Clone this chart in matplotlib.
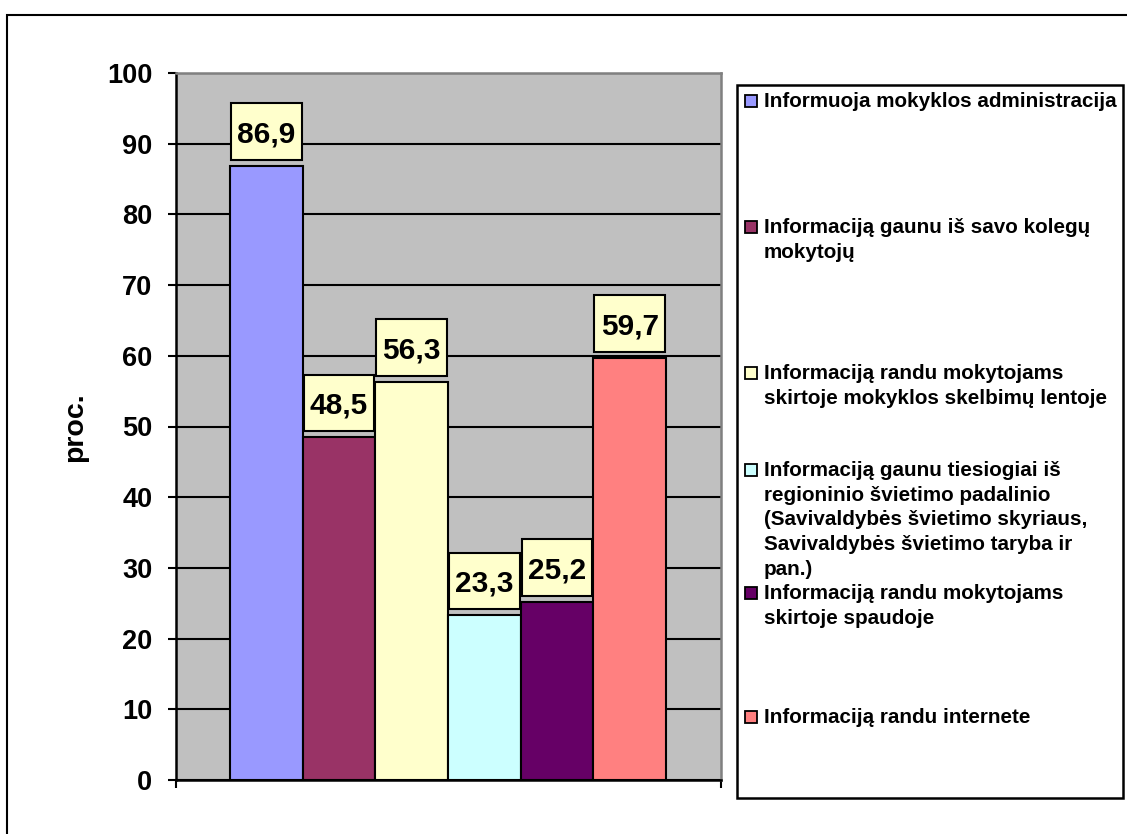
import matplotlib
matplotlib.use("Agg")
import matplotlib.pyplot as plt
import matplotlib.patches as mpatches
import numpy as np

# Survey answers: where teachers get their information (percent)
labels = [
    "Informuoja mokyklos administracija",
    "Informaciją gaunu iš savo kolegų\nmokytojų",
    "Informaciją randu mokytojams\nskirtoje mokyklos skelbimų lentoje",
    "Informaciją gaunu tiesiogiai iš\nregioninio švietimo padalinio\n(Savivaldybės švietimo skyriaus,\nSavivaldybės švietimo taryba ir\npan.)",
    "Informaciją randu mokytojams\nskirtoje spaudoje",
    "Informaciją randu internete",
]
values = [86.9, 48.5, 56.3, 23.3, 25.2, 59.7]
colors = ["#9999FF", "#993366", "#FFFFCC", "#CCFFFF", "#660066", "#FF8080"]
yticks = [0, 10, 20, 30, 40, 50, 60, 70, 80, 90, 100]

# first-line centre of each legend entry, in pixels from the top
legend_rows = [101, 227, 373, 470, 593, 717]

W, H = 1127, 834
plt.rcParams['font.family'] = ['Liberation Sans', 'DejaVu Sans']
plt.rcParams['font.weight'] = 'bold'

fig = plt.figure(figsize=(W / 100, H / 100), dpi=100, facecolor='white')
ax = fig.add_axes([176 / W, 1 - 780 / H, 545 / W, 707 / H])
ax.set_facecolor('#C0C0C0')

x = np.arange(len(values))
ax.bar(x, values, width=1.0, color=colors, edgecolor='black', linewidth=1.5, zorder=3)

# value boxes above each bar: same width as the bar, small gap above its top
box_gap, box_h, box_w = 0.85, 8.0, 0.97
for xi, v in zip(x, values):
    ax.add_patch(mpatches.Rectangle((xi - box_w / 2, v + box_gap), box_w, box_h,
                                    facecolor='#FFFFCC', edgecolor='black',
                                    linewidth=1.5, zorder=4))
    ax.text(xi, v + box_gap + box_h / 2, f"{v:.1f}".replace('.', ','),
            ha='center', va='center_baseline', fontsize=21.5, fontweight='bold', zorder=5)

lo, hi = -0.5 - 0.743, len(values) - 0.5 + 0.757
ax.set_xlim(lo, hi)
ax.set_ylim(0, 100)
ax.set_yticks(yticks)
ax.set_yticklabels([str(t) for t in yticks], fontsize=19.5, fontweight='bold')
ax.set_xticks([lo, hi])
ax.set_xticklabels([])
ax.tick_params(axis='both', direction='out', length=6, width=1.5, color='black')
ax.tick_params(axis='y', pad=11)

ax.yaxis.grid(True, color='black', linewidth=1.5)
ax.set_axisbelow(True)

for side in ('left', 'bottom'):
    ax.spines[side].set_color('black')
    ax.spines[side].set_linewidth(1.8)
for side in ('top', 'right'):
    ax.spines[side].set_color('#808080')
    ax.spines[side].set_linewidth(1.8)

fig.text(75 / W, 1 - 427 / H, 'proc.', rotation=90, ha='center', va='center',
         fontsize=20.5, fontweight='bold')

# legend panel drawn by hand so the entries sit where they should
fig.patches.append(mpatches.Rectangle((737 / W, 1 - 798 / H), (1123 - 737) / W, (798 - 85) / H,
                                      transform=fig.transFigure, facecolor='white',
                                      edgecolor='black', linewidth=1.8, zorder=1))
for lab, col, row in zip(labels, colors, legend_rows):
    fig.patches.append(mpatches.Rectangle((745 / W, 1 - (row + 6) / H), 12 / W, 12 / H,
                                          transform=fig.transFigure, facecolor=col,
                                          edgecolor='black', linewidth=1.3, zorder=2))
    fig.text(764 / W, 1 - (row - 9) / H, lab, ha='left', va='top', fontsize=14.9,
             fontweight='bold', linespacing=1.38, zorder=3)

# chart frame (only top and left edges fall inside the image)
fig.patches.append(mpatches.Rectangle((7 / W, -0.1), 1.2, 1.1 - 15 / H,
                                      transform=fig.transFigure, fill=False,
                                      edgecolor='black', linewidth=1.5, zorder=0))

fig.savefig('out.png', dpi=100, facecolor='white')
